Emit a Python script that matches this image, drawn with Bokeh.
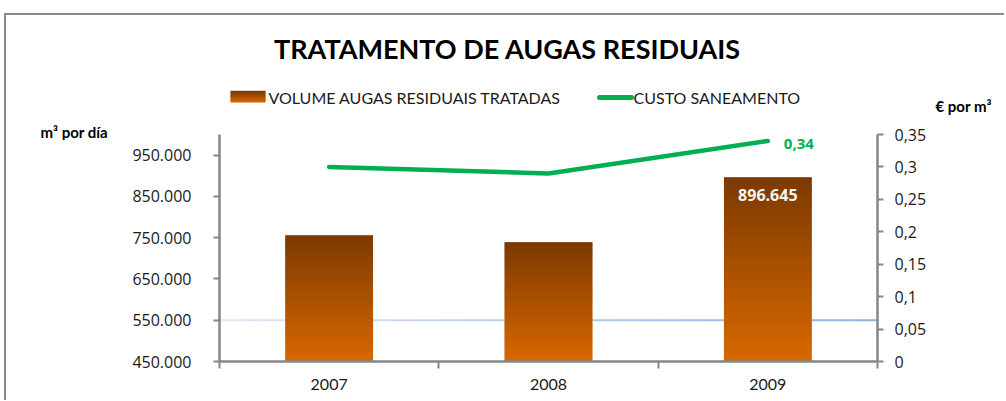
from bokeh.plotting import figure
from bokeh.models import Range1d, LinearAxis, FixedTicker, Label
from bokeh.embed import file_html
from bokeh.resources import INLINE

# ---- data ----
years = ["2007", "2008", "2009"]
volume = [756000, 739000, 896645]
cost = [0.30, 0.29, 0.34]
left_ticks = [450000, 550000, 650000, 750000, 850000, 950000]
left_tick_labels = ["450.000", "550.000", "650.000", "750.000", "850.000", "950.000"]
right_ticks = [0, 0.05, 0.1, 0.15, 0.2, 0.25, 0.3, 0.35]
right_tick_labels = ["0", "0,05", "0,1", "0,15", "0,2", "0,25", "0,3", "0,35"]
ref_level = 550000
volume_label = "896.645"
cost_label = "0,34"
title_text = "TRATAMENTO DE AUGAS RESIDUAIS"
series_names = ["VOLUME AUGAS RESIDUAIS  TRATADAS", "CUSTO SANEAMENTO"]
left_title = "m³ por día"
right_title = "€ por m³"

# ---- styling ----
CAL = "Lato"
SANS = "Open Sans"
AXIS_GREY = "#868686"
BAR_BOTTOM, BAR_TOP = "#d96800", "#7b3900"
GREEN = "#00b050"
W = 1004
HEAD_H = 140
OVERLAP = 20


def hex2rgb(h):
    h = h.lstrip("#")
    return tuple(int(h[i:i + 2], 16) for i in (0, 2, 4))


def mix(c0, c1, t):
    a, b = hex2rgb(c0), hex2rgb(c1)
    return "#%02x%02x%02x" % tuple(round(a[i] + (b[i] - a[i]) * t) for i in range(3))


# ================= header (title, legend, axis titles) =================
# header canvas uses pixel coordinates (y downwards) for text placement
head = figure(width=W, height=HEAD_H, min_border=0,
              x_range=Range1d(0, W), y_range=Range1d(HEAD_H, 0),
              x_axis_location=None, y_axis_location=None,
              output_backend="svg", toolbar_location=None)
head.grid.visible = False
head.outline_line_color = None
head.border_fill_color = None
head.background_fill_color = None
head.styles = {
    "background": "linear-gradient(#8a8a8a,#8a8a8a) 4px 13px / 100% 2px no-repeat, "
                  "linear-gradient(#8a8a8a,#8a8a8a) 4px 13px / 2px 100% no-repeat",
}


def hlab(x, y, text, size, bold=False, color="#000000", align="left", font=CAL):
    return Label(x=x, y=y, text=text, text_font=font, text_font_size=size,
                 text_font_style="bold" if bold else "normal",
                 text_color=color, text_align=align, text_baseline="middle")


head.add_layout(hlab(507, 48, title_text, "27px", bold=True, align="center"))
head.add_layout(hlab(40, 131, left_title, "15px", bold=True))
head.add_layout(hlab(935, 105, right_title, "15px", bold=True))

# legend (drawn by hand: gradient swatch for the bars, green stroke for the line)
NS = 8
sw_top, sw_bot = 91, 102
head.quad(left=[230] * NS, right=[265] * NS,
          top=[sw_bot - (sw_bot - sw_top) * (k + 1.5) / NS for k in range(NS)],
          bottom=[sw_bot - (sw_bot - sw_top) * k / NS for k in range(NS)],
          fill_color=[mix(BAR_BOTTOM, BAR_TOP, (k + 0.5) / NS) for k in range(NS)],
          line_color=None)
head.segment(x0=[599], x1=[631], y0=[97], y1=[97], line_color=GREEN, line_width=5,
             line_cap="round")
head.add_layout(hlab(268, 97, series_names[0], "16px", color="#1a1a1a"))
head.add_layout(hlab(633, 97, series_names[1], "16px", color="#1a1a1a"))

# ================= main chart =================
y0, y1 = 450000, 1000000
p = figure(
    width=W, frame_width=658, frame_height=227,
    min_border_left=219, min_border_right=127, min_border_top=14, min_border_bottom=39,
    x_range=Range1d(0, len(years)), y_range=Range1d(y0, y1),
    x_axis_location=None, y_axis_location=None,
    output_backend="svg", toolbar_location=None,
)
p.extra_y_ranges = {"right": Range1d(0, 0.35)}
p.grid.visible = False
p.outline_line_color = None
p.border_fill_color = None
p.background_fill_color = None
p.styles = {
    "margin-top": "-%dpx" % OVERLAP,
    "background": "linear-gradient(#8a8a8a,#8a8a8a) 4px 0px / 2px 100% no-repeat",
}

xs = [i + 0.5 for i in range(len(years))]

# reference line (light blue, gradient left->right)
nseg = 30
sx0 = [len(years) * k / nseg for k in range(nseg)]
sx1 = [len(years) * (k + 1) / nseg for k in range(nseg)]
scol = [mix("#dfe8f4", "#8cb1e1", (k + 0.5) / nseg) for k in range(nseg)]
p.segment(x0=sx0, x1=sx1, y0=[ref_level] * nseg, y1=[ref_level] * nseg,
          line_color=scol, line_width=2)

# gradient bars (stacked thin slices, overlapping to avoid seams)
N = 60
bx, bb, bt, bc = [], [], [], []
for x, v in zip(xs, volume):
    for k in range(N):
        bx.append(x)
        bb.append(y0 + (v - y0) * k / N)
        bt.append(min(v, y0 + (v - y0) * (k + 1.8) / N))
        bc.append(mix(BAR_BOTTOM, BAR_TOP, (k + 0.5) / N))
p.vbar(x=bx, bottom=bb, top=bt, width=0.4, fill_color=bc, line_color=None)

# cost line
p.line(xs, cost, y_range_name="right", line_color=GREEN, line_width=4.5,
       line_cap="round", line_join="round")

# axes
la = LinearAxis(ticker=FixedTicker(ticks=left_ticks, minor_ticks=[]),
                major_label_overrides=dict(zip(left_ticks, left_tick_labels)))
ra = LinearAxis(y_range_name="right", ticker=FixedTicker(ticks=right_ticks, minor_ticks=[]),
                major_label_overrides=dict(zip(right_ticks, right_tick_labels)))
ba = LinearAxis(ticker=FixedTicker(ticks=xs, minor_ticks=list(range(len(years) + 1))),
                major_label_overrides=dict(zip(xs, years)))
for ax in (la, ra, ba):
    ax.axis_line_color = AXIS_GREY
    ax.axis_line_width = 2.5
    ax.major_tick_line_color = AXIS_GREY
    ax.major_tick_line_width = 2
    ax.major_tick_in = 0
    ax.major_tick_out = 6
    ax.minor_tick_line_color = None
    ax.major_label_text_color = "#1a1a1a"
    ax.major_label_text_font = SANS
    ax.major_label_text_font_size = "16px"
la.major_label_standoff = 22
ra.major_label_standoff = 11
ba.major_tick_line_color = None
ba.major_tick_out = 0
ba.minor_tick_line_color = AXIS_GREY
ba.minor_tick_line_width = 2
ba.minor_tick_in = 0
ba.minor_tick_out = 7
ba.major_label_text_font = CAL
ba.major_label_text_font_size = "16px"
ba.major_label_standoff = 10
p.add_layout(la, "left")
p.add_layout(ra, "right")
p.add_layout(ba, "below")

# data labels
p.add_layout(Label(x=xs[-1], y=volume[-1], text=volume_label, y_offset=-18,
                   text_font=SANS, text_font_size="16px", text_font_style="bold",
                   text_color="#f4f4f4", text_align="center", text_baseline="middle"))
p.add_layout(Label(x=xs[-1], y=cost[-1], y_range_name="right", text=cost_label,
                   x_offset=16, y_offset=-3,
                   text_font=SANS, text_font_size="15px", text_font_style="bold",
                   text_color=GREEN, text_align="left", text_baseline="middle"))

open("out.html", "w").write(file_html([head, p], INLINE))
